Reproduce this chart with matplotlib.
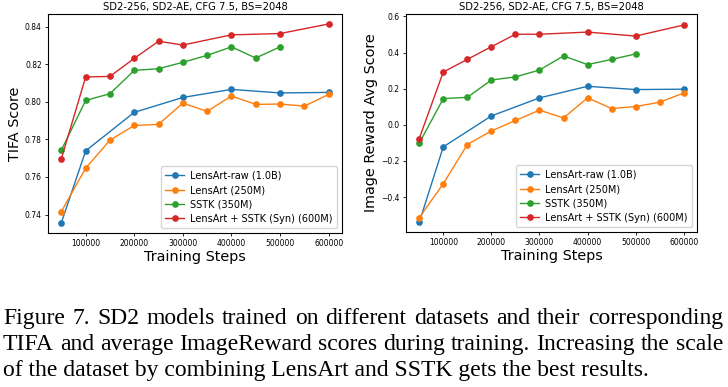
import numpy as np
import matplotlib
matplotlib.use("Agg")
import matplotlib.pyplot as plt

## DATA ##
steps_full = [50000, 100000, 150000, 200000, 250000, 300000, 350000,
              400000, 450000, 500000, 550000, 600000]
steps_raw = [50000, 100000, 200000, 300000, 400000, 500000, 600000]
steps_sstk = steps_full[:10]
steps_syn = [50000, 100000, 150000, 200000, 250000, 300000, 400000, 500000, 600000]

labels = ["LensArt-raw (1.0B)", "LensArt (250M)", "SSTK (350M)",
          "LensArt + SSTK (Syn) (600M)"]
colors = ["#1f77b4", "#ff7f0e", "#2ca02c", "#d62728"]

tifa_raw = [0.7357, 0.7739, 0.7944, 0.8023, 0.8066, 0.8047, 0.8050]
tifa_lensart = [0.7416, 0.7647, 0.7796, 0.7874, 0.7880, 0.7993, 0.7949,
                0.8031, 0.7986, 0.7988, 0.7977, 0.8039]
tifa_sstk = [0.7743, 0.8007, 0.8043, 0.8167, 0.8176, 0.8210, 0.8247,
             0.8292, 0.8233, 0.8292]
tifa_syn = [0.7697, 0.8132, 0.8135, 0.8231, 0.8322, 0.8302, 0.8356,
            0.8363, 0.8414]

ir_raw = [-0.540, -0.122, 0.049, 0.149, 0.213, 0.195, 0.197]
ir_lensart = [-0.514, -0.326, -0.109, -0.034, 0.024, 0.081, 0.038,
              0.149, 0.090, 0.101, 0.125, 0.176]
ir_sstk = [-0.102, 0.145, 0.152, 0.248, 0.265, 0.303, 0.381, 0.333,
           0.362, 0.392]
ir_syn = [-0.076, 0.292, 0.362, 0.432, 0.501, 0.501, 0.513, 0.491, 0.552]

title = "SD2-256, SD2-AE, CFG 7.5, BS=2048"
caption = [
    "Figure 7. SD2 models trained on different datasets and their corresponding",
    "TIFA and average ImageReward scores during training. Increasing the scale",
    "of the dataset by combining LensArt and SSTK gets the best results.",
]

## PLOT ##
W, H = 728, 387
fig = plt.figure(figsize=(W / 100, H / 100), dpi=100)
ax1 = fig.add_axes([48 / W, 1 - 233 / H, 294 / W, 219 / H])
ax2 = fig.add_axes([406 / W, 1 - 232 / H, 291 / W, 218 / H])

xs = [steps_raw, steps_full, steps_sstk, steps_syn]


def draw(ax, ys, ylabel, yticks):
    for x, y, lab, c in zip(xs, ys, labels, colors):
        ax.plot(x, y, marker='o', markersize=3.8, linewidth=1.0, color=c, label=lab)
    ax.set_title(title, fontsize=7.2, pad=3)
    ax.set_xlabel("Training Steps", fontsize=10.4, labelpad=1)
    ax.set_ylabel(ylabel, fontsize=10.4, labelpad=2)
    ax.set_xticks([100000, 200000, 300000, 400000, 500000, 600000])
    ax.set_yticks(yticks)
    ax.tick_params(labelsize=5.5, length=2.5, width=0.6, pad=2)
    for s in ax.spines.values():
        s.set_linewidth(0.8)
    ax.legend(loc='lower right', fontsize=7.0, handlelength=2.0,
              borderpad=0.45, labelspacing=0.45, handletextpad=0.6)


draw(ax1, [tifa_raw, tifa_lensart, tifa_sstk, tifa_syn], "TIFA Score",
     [0.74, 0.76, 0.78, 0.80, 0.82, 0.84])
ax1.set_ylim(0.7302, 0.8467)
ax1.set_yticklabels(["0.74", "0.76", "0.78", "0.80", "0.82", "0.84"])

draw(ax2, [ir_raw, ir_lensart, ir_sstk, ir_syn], "Image Reward Avg Score",
     [-0.4, -0.2, 0.0, 0.2, 0.4, 0.6])
ax2.set_ylim(-0.593, 0.613)
ax2.set_yticklabels(["\u22120.4", "\u22120.2", "0.0", "0.2", "0.4", "0.6"])

# caption, first two lines justified word by word
renderer = fig.canvas.get_renderer()
x_left, x_right = 3, 723
cap_size = 17.0
for i, line in enumerate(caption):
    y = 1 - (324 + 26 * i) / H
    if i == len(caption) - 1:
        fig.text(x_left / W, y, line, family="Liberation Serif", fontsize=cap_size,
                 va='baseline', ha='left')
        continue
    words = line.split(" ")
    texts = [fig.text(0, y, w, family="Liberation Serif", fontsize=cap_size,
                      va='baseline', ha='left') for w in words]
    widths = [t.get_window_extent(renderer).width for t in texts]
    gap = (x_right - x_left - sum(widths)) / (len(words) - 1)
    x = x_left
    for t, w in zip(texts, widths):
        t.set_x(x / W)
        x += w + gap

fig.savefig("out.png", dpi=100)
